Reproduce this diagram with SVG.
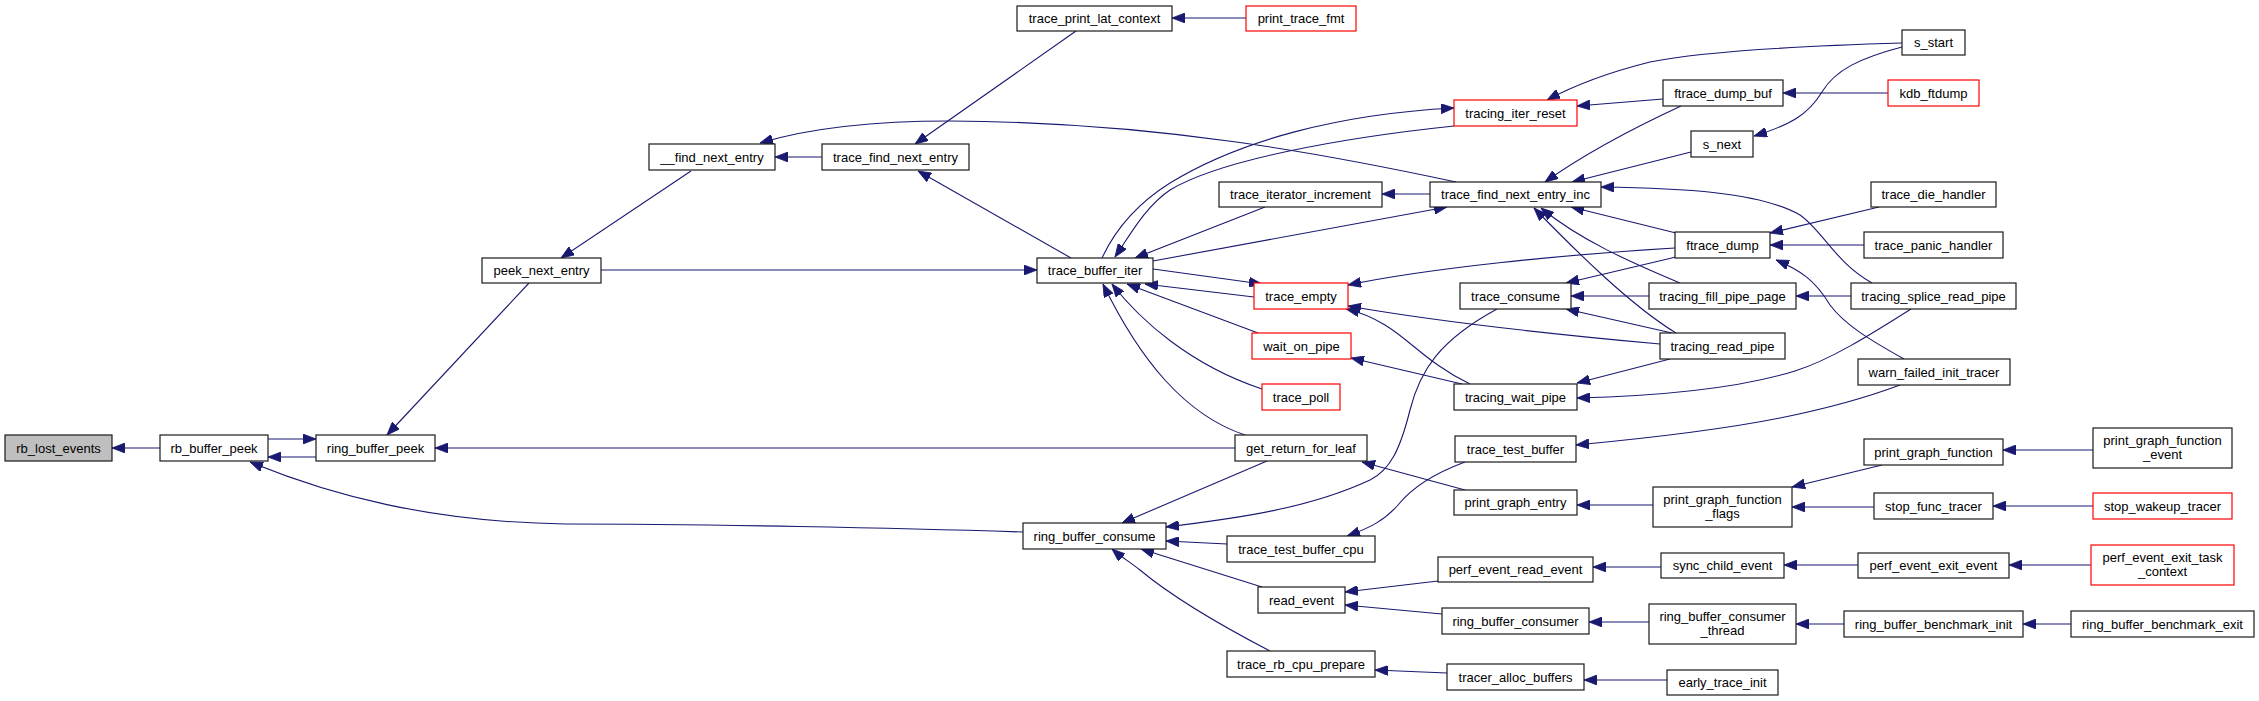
<svg xmlns="http://www.w3.org/2000/svg" width="2259" height="701" viewBox="0 0 2259 701">
<style>
.n rect{fill:#fff;stroke:#1a1a1a;stroke-width:1.2}
.r rect{stroke:#ff0000}
.root rect{fill:#bfbfbf}
text{font-family:"Liberation Sans",Arial,Helvetica,sans-serif;font-size:13px;text-anchor:middle;fill:#000}
.e path{fill:none;stroke:#191970;stroke-width:1.1;marker-end:url(#ah)}
</style>
<defs>
<marker id="ah" markerUnits="userSpaceOnUse" markerWidth="13" markerHeight="10" refX="13" refY="5" orient="auto"><path d="M0,0 L13,5 L0,10 z" fill="#191970" stroke="#191970" stroke-width="0.8"/></marker>
</defs>
<rect width="2259" height="701" fill="#fff"/>
<g id="edges" class="e">
<path d="M160,448 L112,448"/>
<path d="M268,439 L316,439"/>
<path d="M316,457 L268,457"/>
<path d="M529,283 L387,435"/>
<path d="M1235,448 L435,448"/>
<path d="M1023,532 C900,528 700,524 565,524 C430,522 330,495 250,462"/>
<path d="M691,171 L561,258"/>
<path d="M822,157 L775,157"/>
<path d="M1456,182 C1330,155 1160,122 950,121 C870,121 810,128 760,143"/>
<path d="M1076,31 L915,144"/>
<path d="M1246,18 L1172,18"/>
<path d="M1071,258 L918,171"/>
<path d="M601,270 L1037,270"/>
<path d="M1102,258 C1115,230 1135,205 1170,183 C1240,140 1340,114 1454,108"/>
<path d="M1454,126 C1340,138 1220,160 1170,190 C1145,207 1130,235 1115,257"/>
<path d="M1265,207 L1135,258"/>
<path d="M1430,194 L1382,194"/>
<path d="M1153,261 L1447,207"/>
<path d="M1153,269 L1262,284"/>
<path d="M1254,297 L1145,284"/>
<path d="M1258,333 L1127,284"/>
<path d="M1262,389 C1190,365 1140,320 1112,284"/>
<path d="M1245,435 C1185,415 1140,360 1103,284"/>
<path d="M1663,99 L1577,106"/>
<path d="M1902,43 C1800,46 1700,52 1650,62 C1610,72 1575,85 1547,100"/>
<path d="M1888,93 L1783,93"/>
<path d="M1902,47 C1860,58 1835,70 1822,92 C1808,115 1790,125 1754,136"/>
<path d="M1681,106 C1640,125 1590,150 1545,182"/>
<path d="M1691,152 L1572,182"/>
<path d="M1872,283 C1835,262 1822,230 1800,215 C1760,192 1680,188 1601,187"/>
<path d="M1676,233 L1571,207"/>
<path d="M1680,283 C1630,262 1580,240 1541,208"/>
<path d="M1676,333 C1630,305 1575,250 1534,208"/>
<path d="M1675,248 C1560,255 1430,268 1348,285"/>
<path d="M1879,207 L1770,233"/>
<path d="M1864,245 L1770,245"/>
<path d="M1904,359 C1870,340 1845,325 1830,305 C1815,280 1800,270 1776,260"/>
<path d="M1676,257 L1566,283"/>
<path d="M1649,296 L1571,296"/>
<path d="M1672,333 L1566,309"/>
<path d="M1660,344 C1560,335 1440,322 1348,306"/>
<path d="M1470,384 C1430,365 1410,340 1385,325 C1370,316 1360,312 1346,309"/>
<path d="M1462,384 L1351,358"/>
<path d="M1670,359 L1577,383"/>
<path d="M1911,309 C1870,335 1830,360 1795,371 C1740,388 1660,396 1577,398"/>
<path d="M1900,385 C1860,400 1810,412 1780,418 C1720,430 1650,438 1576,445"/>
<path d="M1465,462 C1430,475 1410,490 1398,505 C1385,520 1370,528 1347,536"/>
<path d="M1497,309 C1440,340 1420,370 1410,410 C1400,450 1390,470 1370,480 C1310,508 1240,518 1166,527"/>
<path d="M1267,461 L1122,523"/>
<path d="M1227,544 L1166,541"/>
<path d="M1262,587 L1141,549"/>
<path d="M1270,651 C1220,625 1170,595 1140,570 C1130,562 1120,556 1112,549"/>
<path d="M1465,490 L1362,462"/>
<path d="M1653,505 L1577,505"/>
<path d="M1882,465 L1792,487"/>
<path d="M1874,507 L1792,507"/>
<path d="M2093,450 L2003,450"/>
<path d="M2093,506 L1993,506"/>
<path d="M1661,567 L1593,567"/>
<path d="M1438,581 L1345,592"/>
<path d="M1858,565 L1784,565"/>
<path d="M2091,565 L2009,565"/>
<path d="M1442,614 L1345,605"/>
<path d="M1649,622 L1589,622"/>
<path d="M1844,624 L1796,624"/>
<path d="M2071,624 L2023,624"/>
<path d="M1447,673 L1375,670"/>
<path d="M1667,680 L1584,680"/>
<path d="M1851,296 L1796,296"/>
</g>
<g id="rb_lost_events" class="n root"><rect x="5" y="435" width="107" height="26"/><text x="58.5" y="452.5">rb_lost_events</text></g>
<g id="rb_buffer_peek" class="n"><rect x="160" y="435" width="108" height="26"/><text x="214" y="452.5">rb_buffer_peek</text></g>
<g id="ring_buffer_peek" class="n"><rect x="316" y="435" width="119" height="26"/><text x="375.5" y="452.5">ring_buffer_peek</text></g>
<g id="peek_next_entry" class="n"><rect x="482" y="258" width="119" height="25"/><text x="541.5" y="275">peek_next_entry</text></g>
<g id="__find_next_entry" class="n"><rect x="649" y="144" width="126" height="26"/><text x="712" y="161.5">__find_next_entry</text></g>
<g id="trace_find_next_entry" class="n"><rect x="822" y="144" width="147" height="26"/><text x="895.5" y="161.5">trace_find_next_entry</text></g>
<g id="trace_print_lat_context" class="n"><rect x="1017" y="6" width="155" height="25"/><text x="1094.5" y="23">trace_print_lat_context</text></g>
<g id="print_trace_fmt" class="n r"><rect x="1246" y="6" width="110" height="25"/><text x="1301" y="23">print_trace_fmt</text></g>
<g id="trace_buffer_iter" class="n"><rect x="1037" y="258" width="116" height="25"/><text x="1095" y="275">trace_buffer_iter</text></g>
<g id="tracing_iter_reset" class="n r"><rect x="1454" y="100" width="123" height="26"/><text x="1515.5" y="117.5">tracing_iter_reset</text></g>
<g id="trace_iterator_increment" class="n"><rect x="1219" y="182" width="163" height="25"/><text x="1300.5" y="199">trace_iterator_increment</text></g>
<g id="trace_find_next_entry_inc" class="n"><rect x="1430" y="182" width="171" height="25"/><text x="1515.5" y="199">trace_find_next_entry_inc</text></g>
<g id="ftrace_dump_buf" class="n"><rect x="1663" y="80" width="120" height="26"/><text x="1723" y="97.5">ftrace_dump_buf</text></g>
<g id="s_start" class="n"><rect x="1902" y="30" width="63" height="25"/><text x="1933.5" y="47">s_start</text></g>
<g id="kdb_ftdump" class="n r"><rect x="1888" y="80" width="91" height="26"/><text x="1933.5" y="97.5">kdb_ftdump</text></g>
<g id="s_next" class="n"><rect x="1691" y="131" width="62" height="26"/><text x="1722" y="148.5">s_next</text></g>
<g id="trace_die_handler" class="n"><rect x="1871" y="182" width="125" height="25"/><text x="1933.5" y="199">trace_die_handler</text></g>
<g id="trace_panic_handler" class="n"><rect x="1864" y="232" width="139" height="26"/><text x="1933.5" y="249.5">trace_panic_handler</text></g>
<g id="ftrace_dump" class="n"><rect x="1675" y="232" width="95" height="26"/><text x="1722.5" y="249.5">ftrace_dump</text></g>
<g id="trace_empty" class="n r"><rect x="1254" y="283" width="94" height="26"/><text x="1301" y="300.5">trace_empty</text></g>
<g id="wait_on_pipe" class="n r"><rect x="1252" y="333" width="99" height="26"/><text x="1301.5" y="350.5">wait_on_pipe</text></g>
<g id="trace_poll" class="n r"><rect x="1262" y="384" width="78" height="26"/><text x="1301" y="401.5">trace_poll</text></g>
<g id="get_return_for_leaf" class="n"><rect x="1235" y="435" width="132" height="26"/><text x="1301" y="452.5">get_return_for_leaf</text></g>
<g id="trace_consume" class="n"><rect x="1460" y="283" width="111" height="26"/><text x="1515.5" y="300.5">trace_consume</text></g>
<g id="tracing_fill_pipe_page" class="n"><rect x="1649" y="283" width="147" height="26"/><text x="1722.5" y="300.5">tracing_fill_pipe_page</text></g>
<g id="tracing_splice_read_pipe" class="n"><rect x="1851" y="283" width="165" height="26"/><text x="1933.5" y="300.5">tracing_splice_read_pipe</text></g>
<g id="tracing_read_pipe" class="n"><rect x="1660" y="333" width="125" height="26"/><text x="1722.5" y="350.5">tracing_read_pipe</text></g>
<g id="tracing_wait_pipe" class="n"><rect x="1454" y="384" width="123" height="26"/><text x="1515.5" y="401.5">tracing_wait_pipe</text></g>
<g id="warn_failed_init_tracer" class="n"><rect x="1858" y="359" width="152" height="26"/><text x="1934" y="376.5">warn_failed_init_tracer</text></g>
<g id="trace_test_buffer" class="n"><rect x="1455" y="436" width="121" height="26"/><text x="1515.5" y="453.5">trace_test_buffer</text></g>
<g id="print_graph_function" class="n"><rect x="1864" y="439" width="139" height="26"/><text x="1933.5" y="456.5">print_graph_function</text></g>
<g id="print_graph_function_event" class="n"><rect x="2093" y="428" width="139" height="40"/><text x="2162.5" y="445">print_graph_function</text><text x="2162.5" y="459">_event</text></g>
<g id="ring_buffer_consume" class="n"><rect x="1023" y="523" width="143" height="26"/><text x="1094.5" y="540.5">ring_buffer_consume</text></g>
<g id="print_graph_entry" class="n"><rect x="1454" y="490" width="123" height="25"/><text x="1515.5" y="507">print_graph_entry</text></g>
<g id="print_graph_function_flags" class="n"><rect x="1653" y="487" width="139" height="40"/><text x="1722.5" y="504">print_graph_function</text><text x="1722.5" y="518">_flags</text></g>
<g id="trace_test_buffer_cpu" class="n"><rect x="1227" y="536" width="148" height="26"/><text x="1301" y="553.5">trace_test_buffer_cpu</text></g>
<g id="stop_func_tracer" class="n"><rect x="1874" y="493" width="119" height="26"/><text x="1933.5" y="510.5">stop_func_tracer</text></g>
<g id="stop_wakeup_tracer" class="n r"><rect x="2093" y="493" width="139" height="26"/><text x="2162.5" y="510.5">stop_wakeup_tracer</text></g>
<g id="perf_event_read_event" class="n"><rect x="1438" y="557" width="155" height="25"/><text x="1515.5" y="574">perf_event_read_event</text></g>
<g id="sync_child_event" class="n"><rect x="1661" y="553" width="123" height="25"/><text x="1722.5" y="570">sync_child_event</text></g>
<g id="perf_event_exit_event" class="n"><rect x="1858" y="553" width="151" height="25"/><text x="1933.5" y="570">perf_event_exit_event</text></g>
<g id="perf_event_exit_task_context" class="n r"><rect x="2091" y="545" width="143" height="40"/><text x="2162.5" y="562">perf_event_exit_task</text><text x="2162.5" y="576">_context</text></g>
<g id="read_event" class="n"><rect x="1258" y="587" width="87" height="26"/><text x="1301.5" y="604.5">read_event</text></g>
<g id="ring_buffer_consumer" class="n"><rect x="1442" y="608" width="147" height="26"/><text x="1515.5" y="625.5">ring_buffer_consumer</text></g>
<g id="ring_buffer_consumer_thread" class="n"><rect x="1649" y="604" width="147" height="40"/><text x="1722.5" y="621">ring_buffer_consumer</text><text x="1722.5" y="635">_thread</text></g>
<g id="ring_buffer_benchmark_init" class="n"><rect x="1844" y="611" width="179" height="26"/><text x="1933.5" y="628.5">ring_buffer_benchmark_init</text></g>
<g id="ring_buffer_benchmark_exit" class="n"><rect x="2071" y="611" width="183" height="26"/><text x="2162.5" y="628.5">ring_buffer_benchmark_exit</text></g>
<g id="trace_rb_cpu_prepare" class="n"><rect x="1227" y="651" width="148" height="26"/><text x="1301" y="668.5">trace_rb_cpu_prepare</text></g>
<g id="tracer_alloc_buffers" class="n"><rect x="1447" y="664" width="137" height="26"/><text x="1515.5" y="681.5">tracer_alloc_buffers</text></g>
<g id="early_trace_init" class="n"><rect x="1667" y="670" width="111" height="25"/><text x="1722.5" y="687">early_trace_init</text></g>
</svg>
